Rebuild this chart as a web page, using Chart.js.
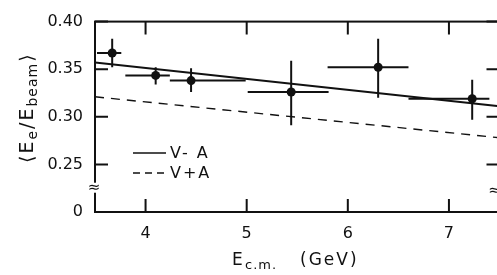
<!DOCTYPE html>
<html>
<head>
<meta charset="utf-8">
<script src="https://cdn.jsdelivr.net/npm/chart.js@4.4.0/dist/chart.umd.min.js"></script>
<style>
  html, body { margin: 0; padding: 0; background: #fff; overflow: hidden; }
  #wrap { width: 504px; height: 275px; }
</style>
</head>
<body>
<div id="wrap"><canvas id="chart" width="504" height="275"></canvas></div>
<script>
// values
const ecm       = [3.67, 4.10, 4.45, 5.44, 6.30, 7.23];
const ratio     = [0.367, 0.3435, 0.338, 0.326, 0.352, 0.319];
const ecmLow    = [3.52, 3.80, 4.24, 5.01, 5.80, 6.60];
const ecmHigh   = [3.76, 4.24, 4.99, 5.81, 6.60, 7.40];
const ratioLow  = [0.352, 0.334, 0.326, 0.291, 0.320, 0.297];
const ratioHigh = [0.382, 0.352, 0.351, 0.359, 0.382, 0.339];

// theory curves
const lineEcm = [3.5, 7.5];
const vMinusA = [0.357, 0.311];
const vPlusA  = [0.321, 0.278];

const xTicks = [4, 5, 6, 7];
const yTicks = [0.20, 0.25, 0.30, 0.35, 0.40];

const INK = "#111";
const FONT = "'DejaVu Sans', sans-serif";

// ---------- error bars ----------
const errorBars = {
  id: "errorBars",
  afterDatasetsDraw(chart) {
    const { ctx, chartArea: a, scales: { x, y } } = chart;
    ctx.save();
    ctx.beginPath();
    ctx.rect(a.left, a.top, a.right - a.left, a.bottom - a.top);
    ctx.clip();
    ctx.strokeStyle = INK;
    ctx.lineWidth = 2;
    ecm.forEach((e, i) => {
      const px = x.getPixelForValue(e);
      const py = y.getPixelForValue(ratio[i]);
      ctx.beginPath();
      ctx.moveTo(x.getPixelForValue(ecmLow[i]), py);
      ctx.lineTo(x.getPixelForValue(ecmHigh[i]), py);
      ctx.moveTo(px, y.getPixelForValue(ratioLow[i]));
      ctx.lineTo(px, y.getPixelForValue(ratioHigh[i]));
      ctx.stroke();
    });
    ctx.restore();
  }
};

// ---------- frame, inward ticks, breaks, titles, legend ----------
const decor = {
  id: "decor",
  afterDraw(chart) {
    const { ctx, chartArea: a, scales: { x, y } } = chart;
    ctx.save();
    ctx.strokeStyle = INK;
    ctx.fillStyle = INK;
    ctx.lineWidth = 2;
    ctx.strokeRect(a.left, a.top, a.right - a.left, a.bottom - a.top);

    // inward tick marks
    ctx.beginPath();
    xTicks.forEach(v => {
      const px = x.getPixelForValue(v);
      ctx.moveTo(px, a.bottom); ctx.lineTo(px, a.bottom - 13);
      ctx.moveTo(px, a.top); ctx.lineTo(px, a.top + 13);
    });
    yTicks.slice(1).forEach(v => {
      const py = y.getPixelForValue(v);
      ctx.moveTo(a.left, py); ctx.lineTo(a.left + 13, py);
      ctx.moveTo(a.right, py); ctx.lineTo(a.right - 13, py);
    });
    ctx.stroke();

    // axis breaks
    const by = y.getPixelForValue(0.2255);
    ctx.fillStyle = "#fff";
    ctx.fillRect(a.left - 3, by - 5, 6, 10);
    ctx.fillRect(a.right - 3, by - 2, 6, 10);
    ctx.fillStyle = INK;
    ctx.font = "15px " + FONT;
    ctx.textAlign = "center";
    ctx.textBaseline = "middle";
    ctx.fillText("\u2248", a.left - 1, by);
    ctx.fillText("\u2248", a.right - 5, by + 3);

    // x title
    ctx.textAlign = "left";
    ctx.textBaseline = "alphabetic";
    ctx.letterSpacing = "1px";
    ctx.font = "17px " + FONT;
    ctx.fillText("E", 232, 265);
    ctx.font = "13px " + FONT;
    ctx.fillText("c.m.", 245, 269);
    ctx.letterSpacing = "2px";
    ctx.font = "17px " + FONT;
    ctx.fillText("(GeV)", 300, 265);

    // y title, rotated
    ctx.save();
    ctx.translate(33, 163);
    ctx.rotate(-Math.PI / 2);
    ctx.letterSpacing = "1px";
    const parts = [
      ["\u27E8", 19, 0], ["E", 19, 0], ["e", 14, 4], ["/", 19, 0],
      ["E", 19, 0], ["beam", 14, 4], ["\u27E9", 19, 0]
    ];
    let cx = 0;
    parts.forEach(([t, s, dy]) => {
      ctx.font = s + "px " + FONT;
      ctx.fillText(t, cx, dy);
      cx += ctx.measureText(t).width + 1;
    });
    ctx.restore();

    // legend
    ctx.lineWidth = 1.6;
    ctx.beginPath();
    ctx.moveTo(133, 153); ctx.lineTo(166, 153);
    ctx.stroke();
    ctx.setLineDash([7, 5]);
    ctx.lineWidth = 1.4;
    ctx.beginPath();
    ctx.moveTo(133, 173); ctx.lineTo(168, 173);
    ctx.stroke();
    ctx.setLineDash([]);
    ctx.font = "16px " + FONT;
    ctx.textBaseline = "middle";
    ctx.letterSpacing = "2px";
    ctx.fillText("V- A", 170, 154);
    ctx.fillText("V+A", 170, 174);
    ctx.restore();
  }
};

new Chart(document.getElementById("chart"), {
  type: "scatter",
  data: {
    datasets: [
      {
        type: "line",
        data: lineEcm.map((e, i) => ({ x: e, y: vMinusA[i] })),
        borderColor: INK,
        borderWidth: 2,
        pointRadius: 0
      },
      {
        type: "line",
        data: lineEcm.map((e, i) => ({ x: e, y: vPlusA[i] })),
        borderColor: INK,
        borderWidth: 1.4,
        borderDash: [9, 7],
        pointRadius: 0
      },
      {
        data: ecm.map((e, i) => ({ x: e, y: ratio[i] })),
        backgroundColor: INK,
        borderWidth: 0,
        pointRadius: 4.5
      }
    ]
  },
  options: {
    responsive: false,
    animation: false,
    layout: { padding: { top: 15, right: 1, left: 0, bottom: 0 } },
    plugins: { legend: { display: false }, tooltip: { enabled: false } },
    scales: {
      x: {
        type: "linear",
        min: 3.5,
        max: 7.5,
        afterBuildTicks: s => { s.ticks = xTicks.map(v => ({ value: v })); },
        afterFit: s => { s.height = 63; },
        grid: { display: false, drawTicks: false },
        border: { display: false },
        ticks: { padding: 12, color: INK, font: { family: FONT, size: 16 } }
      },
      y: {
        min: 0.2,
        max: 0.4,
        afterBuildTicks: s => { s.ticks = yTicks.map(v => ({ value: v })); },
        afterFit: s => { s.width = 95; },
        grid: { display: false, drawTicks: false },
        border: { display: false },
        ticks: {
          padding: 12,
          color: INK,
          font: { family: FONT, size: 16 },
          callback: v => (v < 0.201 ? "0" : v.toFixed(2))
        }
      }
    }
  },
  plugins: [errorBars, decor]
});
</script>
</body>
</html>
